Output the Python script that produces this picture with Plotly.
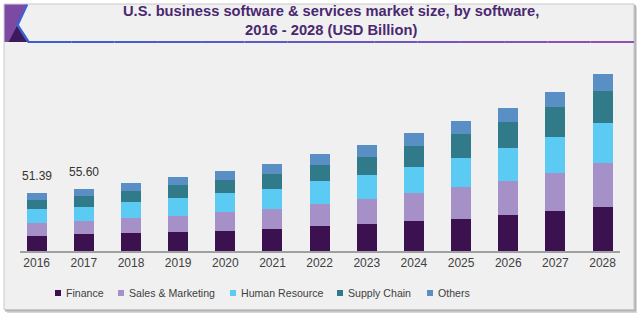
import plotly.graph_objects as go

years = ["2016", "2017", "2018", "2019", "2020", "2021", "2022",
         "2023", "2024", "2025", "2026", "2027", "2028"]
finance = [13.8, 14.8, 15.8, 16.9, 18.2, 19.9, 22.7, 24.3, 26.3, 28.7, 32.0, 35.6, 39.4]
sales_marketing = [11.0, 12.1, 13.4, 14.5, 16.6, 17.5, 19.0, 22.0, 25.3, 28.2, 30.5, 34.1, 38.5]
human_resource = [12.3, 12.7, 14.5, 15.8, 16.6, 17.8, 20.5, 21.4, 23.4, 25.8, 29.1, 32.0, 35.6]
supply_chain = [8.29, 9.2, 9.5, 11.6, 11.8, 13.6, 14.2, 16.0, 18.4, 21.0, 23.4, 26.1, 28.5]
others = [6.0, 6.8, 6.9, 7.1, 8.0, 8.9, 9.8, 11.0, 11.2, 11.6, 12.5, 13.4, 15.1]

label_years = ["2016", "2017"]
label_values = [51.39, 55.60]

series_names = ["Finance", "Sales & Marketing", "Human Resource", "Supply Chain", "Others"]
series_values = [finance, sales_marketing, human_resource, supply_chain, others]
series_colors = ["#3b124f", "#a590c8", "#5ccbf4", "#317a8a", "#5a8fc6"]

FONT = "Liberation Sans, Arial, sans-serif"

fig = go.Figure()
for name, vals, col in zip(series_names, series_values, series_colors):
    fig.add_trace(go.Bar(x=years, y=vals, name=name, marker_color=col,
                         marker_line_width=0, showlegend=False))

# plot area in pixels: x 20..620, y 60..251
W, H = 640, 316
L, R, T, B = 20, 620, 60, 251
def px(x):
    return (x - L) / (R - L)
def py(y):
    return (B - y) / (B - T)

shapes = []
# shadow + frame
shapes.append(dict(type="rect", xref="paper", yref="paper", layer="below",
                   x0=px(7), x1=px(637), y0=py(7), y1=py(313),
                   fillcolor="#d8d8d8", line_width=0))
shapes.append(dict(type="rect", xref="paper", yref="paper", layer="below",
                   x0=px(5), x1=px(636), y0=py(5), y1=py(311.5),
                   fillcolor="#b4b4b4", line_width=0))
shapes.append(dict(type="rect", xref="paper", yref="paper", layer="below",
                   x0=px(4), x1=px(634), y0=py(4), y1=py(309.5),
                   fillcolor="#f0f0f0", line=dict(color="#c8c8c8", width=1)))

def path(points):
    return "M " + " L ".join(f"{px(a):.5f},{py(b):.5f}" for a, b in points)

# left decoration
shapes.append(dict(type="path", xref="paper", yref="paper", layer="below",
                   path=path([(4.5, 4.5), (26, 4.5), (17, 25), (9, 42), (4.5, 42)]) + " Z",
                   fillcolor="#7c4aa2", line_width=0))
shapes.append(dict(type="path", xref="paper", yref="paper", layer="below",
                   path=path([(17, 25), (28, 42), (8.5, 42)]) + " Z",
                   fillcolor="#3d1a5c", line_width=0))
shapes.append(dict(type="path", xref="paper", yref="paper", layer="below",
                   path=path([(27, 4.5), (17.5, 25), (28.5, 42)]),
                   line=dict(color="#3d5fd0", width=2.5)))

# gradient underline
c0 = (0x3d, 0x5f, 0xd0)
c1 = (0x92, 0x50, 0xb6)
n = 14
xs = [28 + (634 - 28) * i / n for i in range(n + 1)]
for i in range(n):
    t = i / (n - 1)
    col = "#%02x%02x%02x" % tuple(int(c0[k] + (c1[k] - c0[k]) * t) for k in range(3))
    shapes.append(dict(type="line", xref="paper", yref="paper", layer="below",
                       x0=px(xs[i]), x1=px(xs[i + 1]), y0=py(42), y1=py(42),
                       line=dict(color=col, width=2.2)))

annotations = []
# title
annotations.append(dict(
    text="<b>U.S. business software & services market size, by software,<br>2016 - 2028 (USD Billion)</b>",
    xref="paper", yref="paper", x=px(331), y=py(21), xanchor="center", yanchor="middle",
    showarrow=False, font=dict(family=FONT, size=14.7, color="#4a2870")))

# value labels
for yr, v in zip(label_years, label_values):
    annotations.append(dict(x=years.index(yr), y=v, xref="x", yref="y", text=f"{v:.2f}",
                            showarrow=False, yanchor="middle", yshift=17,
                            font=dict(family=FONT, size=12, color="#333333")))

# legend (manual, compact)
legend_marker_x = [55, 118, 230, 337, 427]
legend_y = 293
for name, col, mx in zip(series_names, series_colors, legend_marker_x):
    shapes.append(dict(type="rect", xref="paper", yref="paper",
                       x0=px(mx), x1=px(mx + 6), y0=py(legend_y - 3), y1=py(legend_y + 3),
                       fillcolor=col, line_width=0))
    annotations.append(dict(text=name, xref="paper", yref="paper",
                            x=px(mx + 9), y=py(legend_y), xanchor="left", yanchor="middle",
                            showarrow=False,
                            font=dict(family=FONT, size=10.6, color="#404040")))

fig.update_layout(
    width=W, height=H,
    margin=dict(l=L, r=W - R, t=T, b=H - B, autoexpand=False),
    paper_bgcolor="#ffffff",
    plot_bgcolor="rgba(0,0,0,0)",
    barmode="stack",
    bargap=0.575,
    showlegend=False,
    xaxis=dict(type="category", range=[-0.354, 12.37], showgrid=False,
               showline=True, linecolor="#a0a0a0", linewidth=1.5,
               ticks="", tickfont=dict(family=FONT, size=12, color="#404040"),
               fixedrange=True),
    yaxis=dict(range=[0, 170], visible=False, showgrid=False, zeroline=False,
               fixedrange=True),
    shapes=shapes,
    annotations=annotations,
)

fig.write_html("out.html", config={"displayModeBar": False},
               post_script="document.body.style.margin='0';document.body.style.overflow='hidden';")
